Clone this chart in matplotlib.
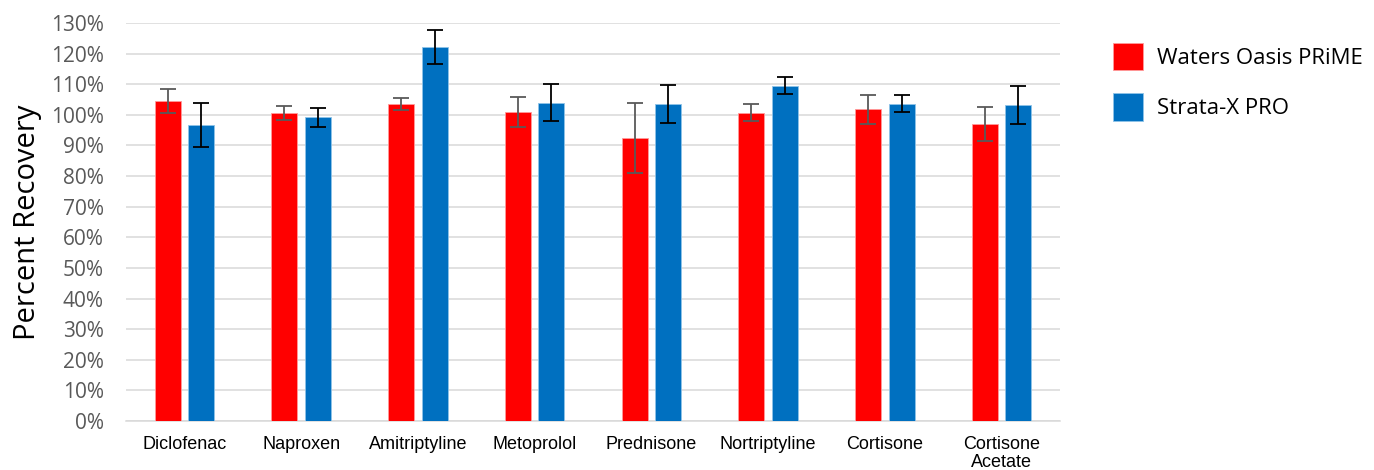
import matplotlib
matplotlib.use("Agg")
import matplotlib.pyplot as plt
import numpy as np
from matplotlib.ticker import FuncFormatter, MultipleLocator
from matplotlib.patches import Patch

categories = ["Diclofenac", "Naproxen", "Amitriptyline", "Metoprolol",
              "Prednisone", "Nortriptyline", "Cortisone", "Cortisone\nAcetate"]
waters = [104.6, 100.5, 103.6, 100.9, 92.5, 100.7, 101.8, 97.0]
waters_err = [3.9, 2.3, 2.0, 4.8, 11.4, 2.8, 4.7, 5.5]
strata = [96.7, 99.2, 122.1, 104.0, 103.7, 109.5, 103.7, 103.2]
strata_err = [7.2, 3.2, 5.5, 6.1, 6.2, 2.8, 2.9, 6.2]
series_names = ["Waters Oasis PRiME", "Strata-X PRO"]

RED = "#FF0000"
BLUE = "#0070C0"

fig = plt.figure(figsize=(13.74, 4.70), dpi=100)
ax = fig.add_axes([0.0917, 0.1043, 0.6798, 0.8467])

x = np.arange(len(categories))
w = 0.223
off = 0.143
ax.bar(x - off, waters, w, color=RED, edgecolor="#ff9a9a", linewidth=0.6, zorder=3,
       yerr=waters_err, error_kw=dict(ecolor="#595959", elinewidth=1.3, capsize=6, capthick=1.3, zorder=4))
ax.bar(x + off, strata, w, color=BLUE, edgecolor="#8fc3e8", linewidth=0.6, zorder=3,
       yerr=strata_err, error_kw=dict(ecolor="#000000", elinewidth=1.3, capsize=6, capthick=1.3, zorder=4))

ax.set_xlim(-0.5, len(categories) - 0.5)
ax.set_ylim(0, 130)
ax.yaxis.set_major_locator(MultipleLocator(10))
ax.yaxis.set_major_formatter(FuncFormatter(lambda v, p: f"{int(round(v))}%"))
ax.grid(axis="y", color="#d9d9d9", linewidth=1.1, zorder=0)
ax.set_axisbelow(True)
for s in ["top", "right", "left"]:
    ax.spines[s].set_visible(False)
ax.spines["bottom"].set_color("#d9d9d9")
ax.spines["bottom"].set_linewidth(1.1)
ax.tick_params(axis="both", length=0)
ax.tick_params(axis="y", labelsize=15, labelcolor="#595959", pad=16)
for lab in ax.get_yticklabels():
    lab.set_fontfamily("Open Sans")
ax.set_xticks(x)
ax.set_xticklabels(categories, fontsize=13, fontfamily="Liberation Sans", color="#000000",
                   linespacing=1.05)
ax.tick_params(axis="x", pad=11)
ax.set_ylabel("Percent Recovery", fontsize=21, fontfamily="Open Sans", color="#000000", labelpad=6)

handles = [Patch(facecolor=RED, edgecolor="#ff9a9a", linewidth=0.6),
           Patch(facecolor=BLUE, edgecolor="#8fc3e8", linewidth=0.6)]
leg = fig.legend(handles, series_names, loc="upper left", bbox_to_anchor=(0.810, 0.9085),
                 frameon=False, prop={"family": "Open Sans", "size": 16},
                 handlelength=1.35, handleheight=1.5, handletextpad=0.63, labelspacing=1.05,
                 borderaxespad=0, borderpad=0)

fig.savefig("out.png", dpi=100)
